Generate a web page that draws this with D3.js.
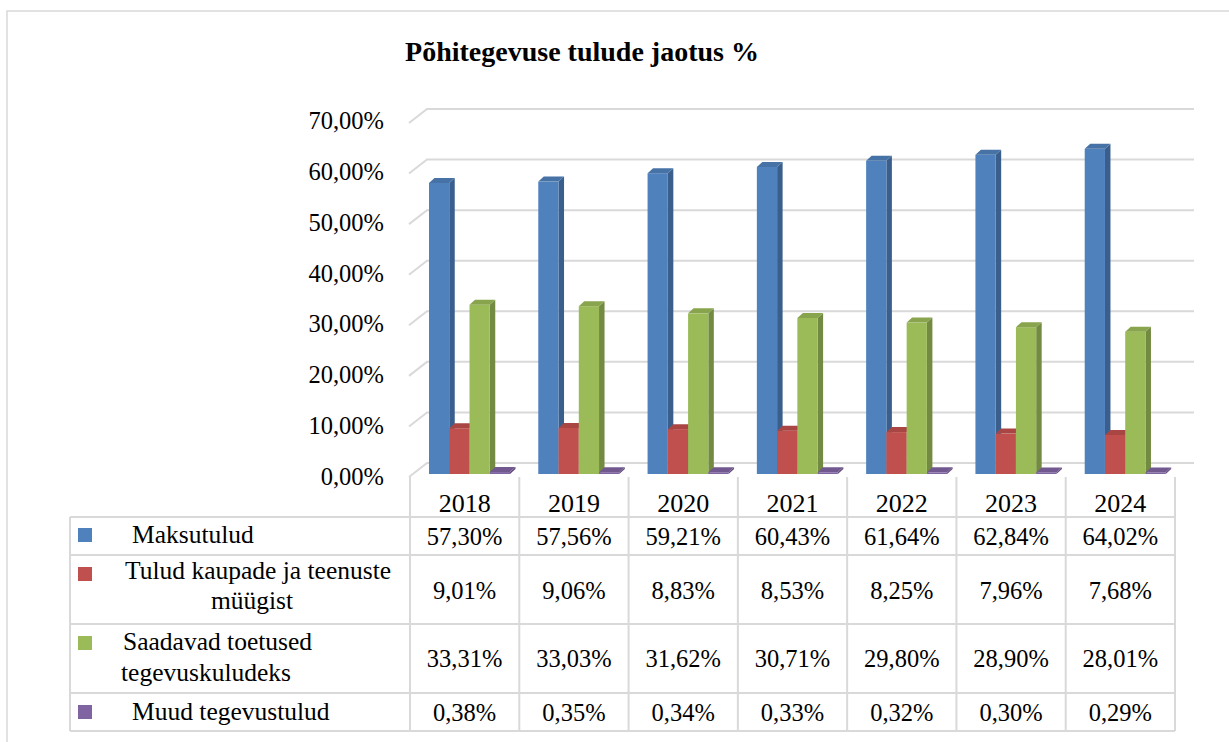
<!DOCTYPE html>
<html>
<head>
<meta charset="utf-8">
<script src="https://cdn.jsdelivr.net/npm/d3@7"></script>
<style>
  body { margin: 0; background: #fff; }
</style>
</head>
<body>
<div id="chart"></div>
<script>
// chart data
const years = ["2018", "2019", "2020", "2021", "2022", "2023", "2024"];
const seriesNames = [
    ["Maksutulud"],
    ["Tulud kaupade ja teenuste", "müügist"],
    ["Saadavad toetused", "tegevuskuludeks"],
    ["Muud tegevustulud"]
];
const maksutulud = [57.30, 57.56, 59.21, 60.43, 61.64, 62.84, 64.02];
const kaubadTeenused = [9.01, 9.06, 8.83, 8.53, 8.25, 7.96, 7.68];
const toetused = [33.31, 33.03, 31.62, 30.71, 29.80, 28.90, 28.01];
const muud = [0.38, 0.35, 0.34, 0.33, 0.32, 0.30, 0.29];
const yTicks = [0, 10, 20, 30, 40, 50, 60, 70];

const seriesValues = [maksutulud, kaubadTeenused, toetused, muud];
const colors = ["#4f81bd", "#c0504d", "#9bbb59", "#8064a2"];
const sideColors = ["#3a5f8c", "#8e3b39", "#728a41", "#5f4a79"];
const topColors = ["#4672a6", "#a94643", "#88a54e", "#71598f"];

const fmt = v => v.toFixed(2).replace(".", ",") + "%";
const FONT = "'Liberation Serif', 'Times New Roman', Times, 'DejaVu Serif', serif";

const W = 1229, H = 742;
const svg = d3.select("#chart").append("svg")
    .attr("width", W)
    .attr("height", H)
    .attr("font-family", FONT);

// outer frame
svg.append("rect")
    .attr("x", 7).attr("y", 11)
    .attr("width", W).attr("height", H)
    .attr("fill", "none")
    .attr("stroke", "#d9d9d9")
    .attr("stroke-width", 1.5);

// title
svg.append("text")
    .attr("x", 582).attr("y", 61)
    .attr("text-anchor", "middle")
    .attr("font-size", 28)
    .attr("font-weight", "bold")
    .text("Põhitegevuse tulude jaotus %");

// scales
const x0 = d3.scaleBand().domain(years).range([410, 1175]);
const x1 = d3.scaleBand().domain(d3.range(seriesValues.length)).range([19, 100]);
const yFront = d3.scaleLinear().domain([0, 70]).range([477, 123]);
const dx = 18, dy = 14;          // depth of the back wall
const yBar = d3.scaleLinear().domain([0, 70]).range([474, 118.4]);
const bdx = 5.5, bdy = 5;        // depth of each bar

// gridlines (back wall + left diagonal)
const grid = svg.append("g")
    .attr("stroke", "#d9d9d9")
    .attr("stroke-width", 2)
    .attr("fill", "none");
yTicks.forEach(t => {
    const yf = yFront(t);
    grid.append("path")
        .attr("d", `M${x0.range()[0] - 1},${yf} L${x0.range()[0] + dx - 1},${yf - dy} L1194,${yf - dy}`);
});

// y axis labels
svg.append("g")
    .selectAll("text")
    .data(yTicks)
    .join("text")
    .attr("x", 384)
    .attr("y", d => yFront(d) + 8 - d / 70 * 2)
    .attr("text-anchor", "end")
    .attr("font-size", 24.5)
    .text(d => fmt(d));

// 3D bars
const bars = svg.append("g");
years.forEach((yr, i) => {
    seriesValues.forEach((vals, s) => {
        const v = vals[i];
        const x = x0(yr) + x1(s);
        const w = x1.bandwidth();
        const y = yBar(v), b = yBar(0);
        const g = bars.append("g");
        // side
        g.append("path")
            .attr("d", `M${x + w},${y} L${x + w + bdx},${y - bdy} L${x + w + bdx},${b - bdy} L${x + w},${b} Z`)
            .attr("fill", sideColors[s]);
        // front
        g.append("rect")
            .attr("x", x).attr("y", y)
            .attr("width", w).attr("height", b - y)
            .attr("fill", colors[s]);
        // top
        g.append("path")
            .attr("d", `M${x},${y} L${x + w},${y} L${x + w + bdx},${y - bdy} L${x + bdx},${y - bdy} Z`)
            .attr("fill", topColors[s]);
    });
});

// data table
const rowLines = [517, 555, 624, 693, 731];
const rowCenters = [536, 590, 658, 712];
const tableLeft = 70, tableRight = x0.range()[1];
const table = svg.append("g")
    .attr("stroke", "#d9d9d9")
    .attr("stroke-width", 2);
rowLines.forEach(y => {
    table.append("line")
        .attr("x1", tableLeft).attr("x2", tableRight)
        .attr("y1", y).attr("y2", y);
});
table.append("line")
    .attr("x1", tableLeft).attr("x2", tableLeft)
    .attr("y1", rowLines[0]).attr("y2", rowLines[rowLines.length - 1]);
years.concat(["end"]).forEach((yr, i) => {
    const x = i < years.length ? x0(yr) : tableRight;
    table.append("line")
        .attr("x1", x).attr("x2", x)
        .attr("y1", yFront(0)).attr("y2", rowLines[rowLines.length - 1]);
});

// year labels
svg.append("g")
    .selectAll("text")
    .data(years)
    .join("text")
    .attr("x", d => x0(d) + x0.bandwidth() / 2)
    .attr("y", 512)
    .attr("text-anchor", "middle")
    .attr("font-size", 26)
    .text(d => d);

// value cells
seriesValues.forEach((vals, s) => {
    svg.append("g")
        .selectAll("text")
        .data(vals)
        .join("text")
        .attr("x", (d, i) => x0(years[i]) + x0.bandwidth() / 2)
        .attr("y", rowCenters[s] + 8.5)
        .attr("text-anchor", "middle")
        .attr("font-size", 24.5)
        .text(d => fmt(d));
});

// legend keys and names
const keyTops = [528, 567, 636, 705];
const lineX = [[132], [125, 252], [123, 121], [132]];
const lineAnchor = [["start"], ["start", "middle"], ["start", "start"], ["start"]];
const lineBase = [[543], [579, 609], [650, 681], [720]];
seriesNames.forEach((lines, s) => {
    svg.append("rect")
        .attr("x", 78).attr("y", keyTops[s])
        .attr("width", 14).attr("height", 14)
        .attr("fill", colors[s]);
    lines.forEach((ln, j) => {
        svg.append("text")
            .attr("x", lineX[s][j])
            .attr("y", lineBase[s][j])
            .attr("text-anchor", lineAnchor[s][j])
            .attr("font-size", 25.5)
            .text(ln);
    });
});
</script>
</body>
</html>
